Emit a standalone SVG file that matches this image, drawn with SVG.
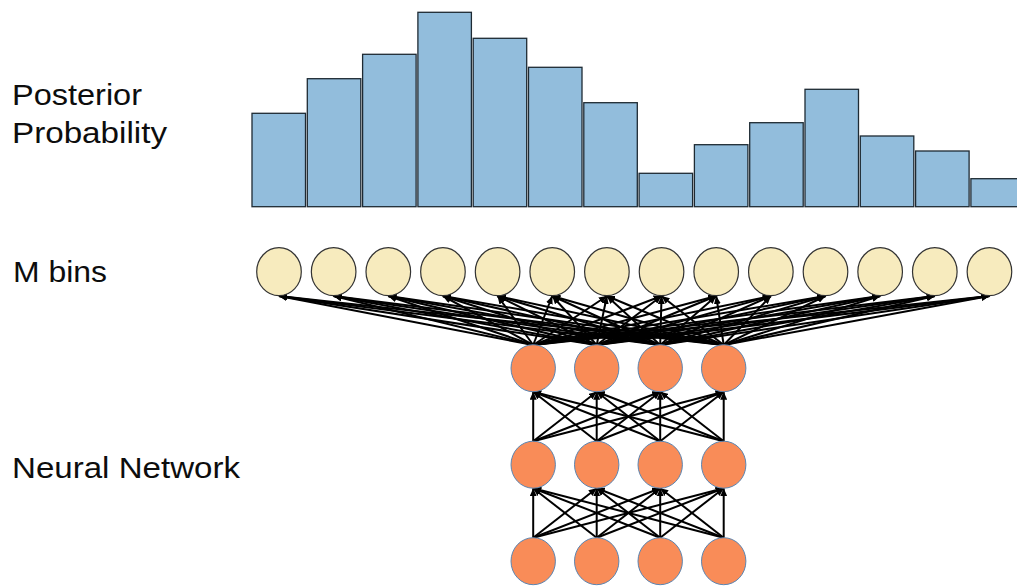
<svg xmlns="http://www.w3.org/2000/svg" width="1017" height="586" viewBox="0 0 1017 586">
<defs>
<marker id="arrow" markerUnits="userSpaceOnUse" markerWidth="8" markerHeight="7" refX="8" refY="3.5" orient="auto">
<path d="M0,0 L8,3.5 L0,7 z" fill="#000"/>
</marker>
<style>
.label{font-family:"Liberation Sans",Arial,sans-serif;font-size:30px;fill:#0d0d0d}
.bar{fill:#92BDDC;stroke:#1e2a33;stroke-width:1.3}
.bin{fill:#F7EBBE;stroke:#333;stroke-width:1.2}
.unit{fill:#F98C58;stroke:#5A85B2;stroke-width:1}
.edge line{stroke:#000;stroke-width:2;marker-end:url(#arrow)}
</style>
</defs>
<rect width="1017" height="586" fill="#fff"/>

<!-- labels -->
<g id="labels">
<text class="label" x="12" y="105" textLength="130" lengthAdjust="spacingAndGlyphs">Posterior</text>
<text class="label" x="12" y="143" textLength="155" lengthAdjust="spacingAndGlyphs">Probability</text>
<text class="label" x="13" y="282" textLength="94" lengthAdjust="spacingAndGlyphs">M bins</text>
<text class="label" x="12" y="478" textLength="228" lengthAdjust="spacingAndGlyphs">Neural Network</text>
</g>

<!-- histogram of posterior probability -->
<g id="histogram">
<rect class="bar" x="252" y="113.3" width="53.5" height="93.4"/>
<rect class="bar" x="307.3" y="78.7" width="53.5" height="128"/>
<rect class="bar" x="362.6" y="54.3" width="53.5" height="152.4"/>
<rect class="bar" x="417.9" y="12.3" width="53.5" height="194.4"/>
<rect class="bar" x="473.2" y="38.3" width="53.5" height="168.4"/>
<rect class="bar" x="528.5" y="67.3" width="53.5" height="139.4"/>
<rect class="bar" x="583.8" y="102.7" width="53.5" height="104"/>
<rect class="bar" x="639.1" y="173.3" width="53.5" height="33.4"/>
<rect class="bar" x="694.4" y="144.7" width="53.5" height="62"/>
<rect class="bar" x="749.7" y="122.7" width="53.5" height="84"/>
<rect class="bar" x="805" y="89.3" width="53.5" height="117.4"/>
<rect class="bar" x="860.3" y="136" width="53.5" height="70.7"/>
<rect class="bar" x="915.6" y="151" width="53.5" height="55.7"/>
<rect class="bar" x="970.9" y="178.7" width="53.5" height="28"/>
</g>

<!-- connectors -->
<g id="connectors" class="edge">
<!-- top hidden layer to output bins -->
<line x1="533.2" y1="345" x2="279" y2="296"/>
<line x1="533.2" y1="345" x2="333.65" y2="296"/>
<line x1="533.2" y1="345" x2="388.3" y2="296"/>
<line x1="533.2" y1="345" x2="442.95" y2="296"/>
<line x1="533.2" y1="345" x2="497.6" y2="296"/>
<line x1="533.2" y1="345" x2="552.25" y2="296"/>
<line x1="533.2" y1="345" x2="606.9" y2="296"/>
<line x1="533.2" y1="345" x2="661.55" y2="296"/>
<line x1="533.2" y1="345" x2="716.2" y2="296"/>
<line x1="533.2" y1="345" x2="770.85" y2="296"/>
<line x1="533.2" y1="345" x2="825.5" y2="296"/>
<line x1="533.2" y1="345" x2="880.15" y2="296"/>
<line x1="533.2" y1="345" x2="934.8" y2="296"/>
<line x1="533.2" y1="345" x2="989.45" y2="296"/>
<line x1="596.7" y1="345" x2="279" y2="296"/>
<line x1="596.7" y1="345" x2="333.65" y2="296"/>
<line x1="596.7" y1="345" x2="388.3" y2="296"/>
<line x1="596.7" y1="345" x2="442.95" y2="296"/>
<line x1="596.7" y1="345" x2="497.6" y2="296"/>
<line x1="596.7" y1="345" x2="552.25" y2="296"/>
<line x1="596.7" y1="345" x2="606.9" y2="296"/>
<line x1="596.7" y1="345" x2="661.55" y2="296"/>
<line x1="596.7" y1="345" x2="716.2" y2="296"/>
<line x1="596.7" y1="345" x2="770.85" y2="296"/>
<line x1="596.7" y1="345" x2="825.5" y2="296"/>
<line x1="596.7" y1="345" x2="880.15" y2="296"/>
<line x1="596.7" y1="345" x2="934.8" y2="296"/>
<line x1="596.7" y1="345" x2="989.45" y2="296"/>
<line x1="660.2" y1="345" x2="279" y2="296"/>
<line x1="660.2" y1="345" x2="333.65" y2="296"/>
<line x1="660.2" y1="345" x2="388.3" y2="296"/>
<line x1="660.2" y1="345" x2="442.95" y2="296"/>
<line x1="660.2" y1="345" x2="497.6" y2="296"/>
<line x1="660.2" y1="345" x2="552.25" y2="296"/>
<line x1="660.2" y1="345" x2="606.9" y2="296"/>
<line x1="660.2" y1="345" x2="661.55" y2="296"/>
<line x1="660.2" y1="345" x2="716.2" y2="296"/>
<line x1="660.2" y1="345" x2="770.85" y2="296"/>
<line x1="660.2" y1="345" x2="825.5" y2="296"/>
<line x1="660.2" y1="345" x2="880.15" y2="296"/>
<line x1="660.2" y1="345" x2="934.8" y2="296"/>
<line x1="660.2" y1="345" x2="989.45" y2="296"/>
<line x1="723.7" y1="345" x2="279" y2="296"/>
<line x1="723.7" y1="345" x2="333.65" y2="296"/>
<line x1="723.7" y1="345" x2="388.3" y2="296"/>
<line x1="723.7" y1="345" x2="442.95" y2="296"/>
<line x1="723.7" y1="345" x2="497.6" y2="296"/>
<line x1="723.7" y1="345" x2="552.25" y2="296"/>
<line x1="723.7" y1="345" x2="606.9" y2="296"/>
<line x1="723.7" y1="345" x2="661.55" y2="296"/>
<line x1="723.7" y1="345" x2="716.2" y2="296"/>
<line x1="723.7" y1="345" x2="770.85" y2="296"/>
<line x1="723.7" y1="345" x2="825.5" y2="296"/>
<line x1="723.7" y1="345" x2="880.15" y2="296"/>
<line x1="723.7" y1="345" x2="934.8" y2="296"/>
<line x1="723.7" y1="345" x2="989.45" y2="296"/>
<!-- middle layer to top layer -->
<line x1="533.2" y1="441.2" x2="533.2" y2="391.7"/>
<line x1="533.2" y1="441.2" x2="596.7" y2="391.7"/>
<line x1="533.2" y1="441.2" x2="660.2" y2="391.7"/>
<line x1="533.2" y1="441.2" x2="723.7" y2="391.7"/>
<line x1="596.7" y1="441.2" x2="533.2" y2="391.7"/>
<line x1="596.7" y1="441.2" x2="596.7" y2="391.7"/>
<line x1="596.7" y1="441.2" x2="660.2" y2="391.7"/>
<line x1="596.7" y1="441.2" x2="723.7" y2="391.7"/>
<line x1="660.2" y1="441.2" x2="533.2" y2="391.7"/>
<line x1="660.2" y1="441.2" x2="596.7" y2="391.7"/>
<line x1="660.2" y1="441.2" x2="660.2" y2="391.7"/>
<line x1="660.2" y1="441.2" x2="723.7" y2="391.7"/>
<line x1="723.7" y1="441.2" x2="533.2" y2="391.7"/>
<line x1="723.7" y1="441.2" x2="596.7" y2="391.7"/>
<line x1="723.7" y1="441.2" x2="660.2" y2="391.7"/>
<line x1="723.7" y1="441.2" x2="723.7" y2="391.7"/>
<!-- input layer to middle layer -->
<line x1="533.2" y1="537.7" x2="533.2" y2="488.2"/>
<line x1="533.2" y1="537.7" x2="596.7" y2="488.2"/>
<line x1="533.2" y1="537.7" x2="660.2" y2="488.2"/>
<line x1="533.2" y1="537.7" x2="723.7" y2="488.2"/>
<line x1="596.7" y1="537.7" x2="533.2" y2="488.2"/>
<line x1="596.7" y1="537.7" x2="596.7" y2="488.2"/>
<line x1="596.7" y1="537.7" x2="660.2" y2="488.2"/>
<line x1="596.7" y1="537.7" x2="723.7" y2="488.2"/>
<line x1="660.2" y1="537.7" x2="533.2" y2="488.2"/>
<line x1="660.2" y1="537.7" x2="596.7" y2="488.2"/>
<line x1="660.2" y1="537.7" x2="660.2" y2="488.2"/>
<line x1="660.2" y1="537.7" x2="723.7" y2="488.2"/>
<line x1="723.7" y1="537.7" x2="533.2" y2="488.2"/>
<line x1="723.7" y1="537.7" x2="596.7" y2="488.2"/>
<line x1="723.7" y1="537.7" x2="660.2" y2="488.2"/>
<line x1="723.7" y1="537.7" x2="723.7" y2="488.2"/>
</g>

<!-- output bins -->
<g id="bins">
<ellipse id="bin1" class="bin" cx="279" cy="271.7" rx="22.3" ry="24"/>
<ellipse id="bin2" class="bin" cx="333.65" cy="271.7" rx="22.3" ry="24"/>
<ellipse id="bin3" class="bin" cx="388.3" cy="271.7" rx="22.3" ry="24"/>
<ellipse id="bin4" class="bin" cx="442.95" cy="271.7" rx="22.3" ry="24"/>
<ellipse id="bin5" class="bin" cx="497.6" cy="271.7" rx="22.3" ry="24"/>
<ellipse id="bin6" class="bin" cx="552.25" cy="271.7" rx="22.3" ry="24"/>
<ellipse id="bin7" class="bin" cx="606.9" cy="271.7" rx="22.3" ry="24"/>
<ellipse id="bin8" class="bin" cx="661.55" cy="271.7" rx="22.3" ry="24"/>
<ellipse id="bin9" class="bin" cx="716.2" cy="271.7" rx="22.3" ry="24"/>
<ellipse id="bin10" class="bin" cx="770.85" cy="271.7" rx="22.3" ry="24"/>
<ellipse id="bin11" class="bin" cx="825.5" cy="271.7" rx="22.3" ry="24"/>
<ellipse id="bin12" class="bin" cx="880.15" cy="271.7" rx="22.3" ry="24"/>
<ellipse id="bin13" class="bin" cx="934.8" cy="271.7" rx="22.3" ry="24"/>
<ellipse id="bin14" class="bin" cx="989.45" cy="271.7" rx="22.3" ry="24"/>
</g>

<!-- network units -->
<g id="layer-top">
<ellipse id="h2-1" class="unit" cx="533.2" cy="368.2" rx="22.2" ry="23.5"/>
<ellipse id="h2-2" class="unit" cx="596.7" cy="368.2" rx="22.2" ry="23.5"/>
<ellipse id="h2-3" class="unit" cx="660.2" cy="368.2" rx="22.2" ry="23.5"/>
<ellipse id="h2-4" class="unit" cx="723.7" cy="368.2" rx="22.2" ry="23.5"/>
</g>
<g id="layer-middle">
<ellipse id="h1-1" class="unit" cx="533.2" cy="464.7" rx="22.2" ry="23.5"/>
<ellipse id="h1-2" class="unit" cx="596.7" cy="464.7" rx="22.2" ry="23.5"/>
<ellipse id="h1-3" class="unit" cx="660.2" cy="464.7" rx="22.2" ry="23.5"/>
<ellipse id="h1-4" class="unit" cx="723.7" cy="464.7" rx="22.2" ry="23.5"/>
</g>
<g id="layer-input">
<ellipse id="in-1" class="unit" cx="533.2" cy="561.2" rx="22.2" ry="23.5"/>
<ellipse id="in-2" class="unit" cx="596.7" cy="561.2" rx="22.2" ry="23.5"/>
<ellipse id="in-3" class="unit" cx="660.2" cy="561.2" rx="22.2" ry="23.5"/>
<ellipse id="in-4" class="unit" cx="723.7" cy="561.2" rx="22.2" ry="23.5"/>
</g>
</svg>
